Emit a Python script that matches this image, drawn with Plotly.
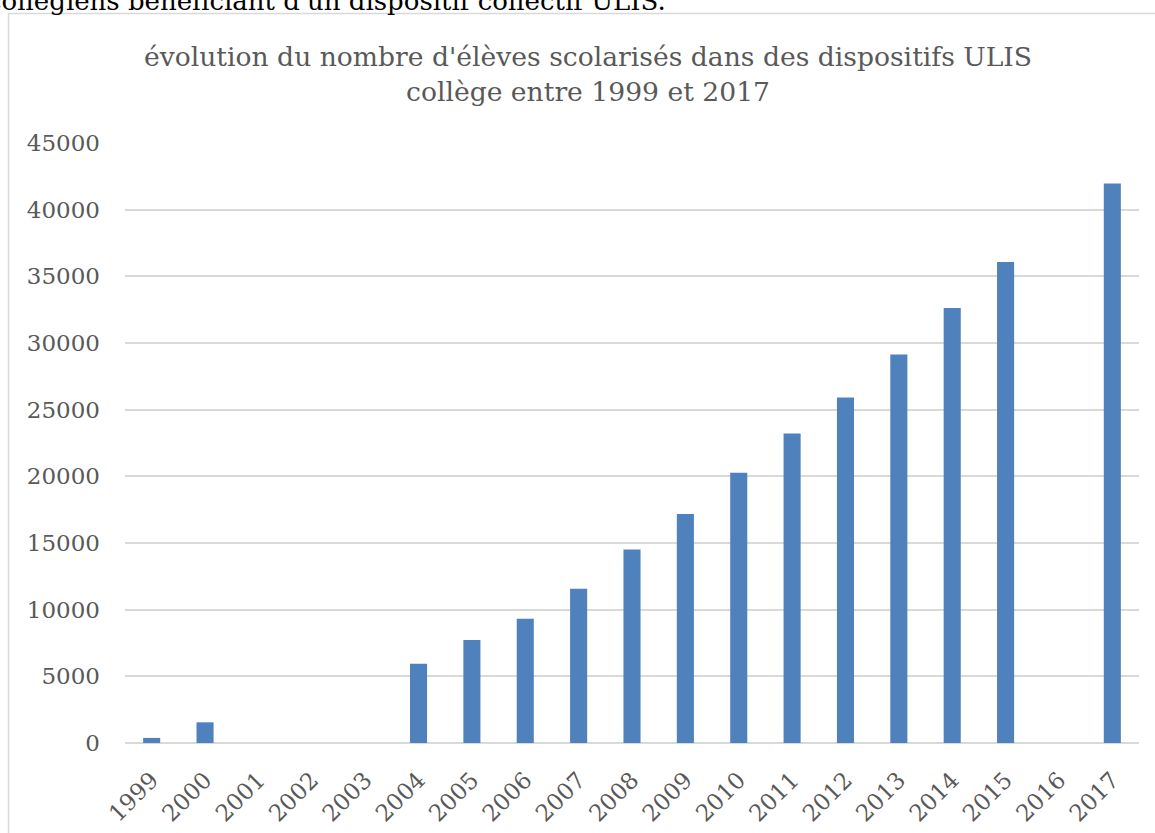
import plotly.graph_objects as go

years = [str(y) for y in range(1999, 2018)]
eleves = [380, 1550, None, None, None, 5950, 7720, 9320, 11570, 14520,
          17170, 20260, 23210, 25910, 29140, 32630, 36080, None, 41960]
y_ticks = list(range(0, 45001, 5000))

W, H = 1155, 833
ML, MR, MT, MB = 125, 16, 143, 90
FONT = "DejaVu Serif"
GRAY = "#595959"

fig = go.Figure(go.Bar(x=years, y=eleves, marker=dict(color="#4F81BD", line=dict(width=0)),
                       hoverinfo="x+y"))

pw = W - ML - MR
ph = H - MT - MB
def px_x(p):
    return (p - ML) / pw
def px_y(p):
    return (H - MB - p) / ph

fig.update_layout(
    width=W, height=H,
    margin=dict(l=ML, r=MR, t=MT, b=MB, autoexpand=False),
    paper_bgcolor="white", plot_bgcolor="white",
    bargap=0.68,
    showlegend=False,
    title=dict(text="évolution du nombre d'élèves scolarisés dans des dispositifs ULIS<br>collège entre 1999 et 2017",
               x=588 / W, xanchor="center", xref="container",
               y=1 - 66 / H, yanchor="top", yref="container",
               font=dict(family=FONT, size=26.6, color=GRAY)),
    xaxis=dict(type="category", tickangle=-45, showgrid=False, showline=False,
               ticks="", tickfont=dict(family=FONT, size=23, color=GRAY),
               ticklabelstandoff=18),
    yaxis=dict(range=[0, 45000], tickvals=y_ticks, ticktext=[str(v) for v in y_ticks],
               showgrid=True, gridcolor="#d9d9d9", gridwidth=1.5,
               zeroline=True, zerolinecolor="#d9d9d9", zerolinewidth=1.5,
               showline=False, ticks="",
               tickfont=dict(family=FONT, size=23, color=GRAY),
               ticklabelstandoff=24),
    shapes=[dict(type="rect", xref="paper", yref="paper",
                 x0=px_x(8.5), x1=px_x(W + 20), y0=px_y(H + 20), y1=px_y(13.5),
                 line=dict(color="#d9d9d9", width=1.5), fillcolor="rgba(0,0,0,0)", layer="below")],
    annotations=[dict(text="collégiens bénéficiant d'un dispositif collectif ULIS.",
                      xref="paper", yref="paper", x=px_x(-15), y=px_y(8),
                      xanchor="left", yanchor="bottom", yshift=-10, showarrow=False,
                      font=dict(family=FONT, size=26, color="black"))],
)

fig.write_html("out.html", config={"displayModeBar": False},
               post_script="document.body.style.margin='0';document.body.style.overflow='hidden';")
